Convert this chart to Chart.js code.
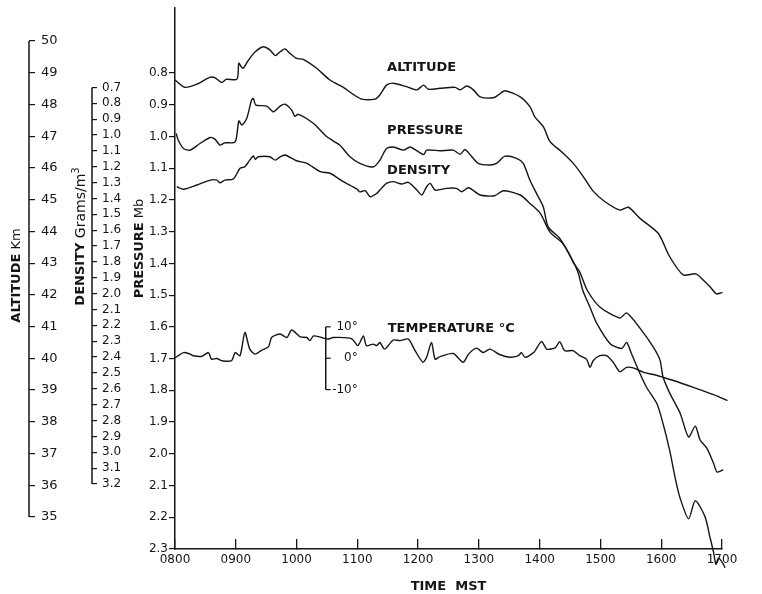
<!DOCTYPE html>
<html>
<head>
<meta charset="utf-8">
<script src="https://cdn.jsdelivr.net/npm/chart.js@4.4.1/dist/chart.umd.min.js"></script>
<style>
  html, body { margin: 0; padding: 0; background: #fff; }
  #wrap { width: 762px; height: 594px; }
</style>
</head>
<body>
<div id="wrap"><canvas id="sounding"></canvas></div>
<script>
// tick values / labels
const timeTicks = [8, 9, 10, 11, 12, 13, 14, 15, 16, 17];
const timeLabels = ['0800', '0900', '1000', '1100', '1200', '1300', '1400', '1500', '1600', '1700'];
const altitudeTicks = [35, 36, 37, 38, 39, 40, 41, 42, 43, 44, 45, 46, 47, 48, 49, 50];
const densityTicks = [0.7, 0.8, 0.9, 1.0, 1.1, 1.2, 1.3, 1.4, 1.5, 1.6, 1.7, 1.8, 1.9, 2.0, 2.1, 2.2,
                      2.3, 2.4, 2.5, 2.6, 2.7, 2.8, 2.9, 3.0, 3.1, 3.2];
const pressureTicks = [0.8, 0.9, 1.0, 1.1, 1.2, 1.3, 1.4, 1.5, 1.6, 1.7, 1.8, 1.9, 2.0, 2.1, 2.2, 2.3];
const tempTicks = [10, 0, -10];
const tempTickLabels = ['10°', '0°', '-10°'];
const tempAxisTime = 10.48;

// altitude (km) vs time (hours MST)
const altTime = [8.00, 8.16, 8.36, 8.58, 8.66, 8.77, 8.84, 9.02, 9.05, 9.09,
                 9.12, 9.21, 9.32, 9.45, 9.56, 9.65, 9.73, 9.81, 9.89, 10.00,
                 10.11, 10.33, 10.55, 10.77, 10.93, 11.07, 11.29, 11.37, 11.48, 11.59,
                 11.81, 11.98, 12.09, 12.17, 12.36, 12.61, 12.69, 12.80, 12.91, 13.02,
                 13.24, 13.32, 13.43, 13.68, 13.84, 13.92, 14.06, 14.17, 14.36, 14.55,
                 14.72, 14.88, 15.07, 15.32, 15.46, 15.65, 15.95, 16.14, 16.36, 16.57,
                 16.69, 16.80, 16.91, 17.01, 17.09];
const altKm = [48.77, 48.54, 48.64, 48.86, 48.84, 48.69, 48.79, 48.80, 49.30, 49.19,
               49.14, 49.40, 49.66, 49.82, 49.72, 49.54, 49.66, 49.75, 49.61, 49.45,
               49.42, 49.14, 48.77, 48.54, 48.32, 48.17, 48.17, 48.30, 48.61, 48.67,
               48.56, 48.46, 48.61, 48.48, 48.51, 48.54, 48.46, 48.58, 48.46, 48.24,
               48.21, 48.30, 48.43, 48.24, 47.93, 47.61, 47.30, 46.83, 46.51, 46.15,
               45.72, 45.27, 44.94, 44.67, 44.76, 44.41, 43.94, 43.20, 42.63, 42.66,
               42.47, 42.26, 42.03, 42.07, 41.92];

// pressure (mb)
const presTime = [8.02, 8.05, 8.14, 8.25, 8.41, 8.58, 8.66, 8.74, 8.82, 8.99,
                  9.05, 9.10, 9.18, 9.26, 9.29, 9.33, 9.51, 9.62, 9.73, 9.81,
                  9.92, 9.97, 10.03, 10.28, 10.50, 10.71, 10.88, 11.04, 11.26, 11.37,
                  11.48, 11.59, 11.76, 11.87, 12.09, 12.14, 12.36, 12.58, 12.69, 12.77,
                  12.85, 12.99, 13.18, 13.29, 13.43, 13.62, 13.73, 13.84, 13.95, 14.06,
                  14.14, 14.33, 14.50, 14.63, 14.71, 14.83, 14.94, 15.16, 15.35, 15.43,
                  15.51, 15.65, 15.76, 15.93, 16.03, 16.14, 16.23, 16.31, 16.45, 16.56,
                  16.72, 16.80, 16.86, 16.90, 16.94, 16.99, 17.05, 17.10];
const presMb = [0.990, 1.010, 1.038, 1.043, 1.022, 1.003, 1.009, 1.027, 1.020, 1.017,
                0.951, 0.964, 0.943, 0.885, 0.880, 0.901, 0.904, 0.922, 0.904, 0.898,
                0.917, 0.936, 0.930, 0.959, 1.001, 1.027, 1.064, 1.085, 1.096, 1.075,
                1.038, 1.033, 1.043, 1.033, 1.057, 1.043, 1.045, 1.043, 1.056, 1.041,
                1.056, 1.085, 1.090, 1.085, 1.062, 1.069, 1.085, 1.138, 1.180, 1.222,
                1.285, 1.321, 1.375, 1.428, 1.485, 1.539, 1.589, 1.653, 1.668, 1.649,
                1.684, 1.747, 1.791, 1.842, 1.905, 1.990, 2.076, 2.139, 2.205, 2.148,
                2.198, 2.261, 2.309, 2.348, 2.329, 2.338, 2.359, 2.401];

// density (g/m3)
const densTime = [8.03, 8.14, 8.36, 8.58, 8.69, 8.74, 8.82, 8.96, 9.07, 9.15,
                  9.23, 9.29, 9.32, 9.37, 9.56, 9.65, 9.73, 9.81, 10.00, 10.17,
                  10.39, 10.55, 10.77, 10.99, 11.04, 11.13, 11.21, 11.32, 11.37, 11.48,
                  11.59, 11.73, 11.84, 11.98, 12.06, 12.14, 12.20, 12.28, 12.47, 12.63,
                  12.72, 12.83, 13.02, 13.26, 13.40, 13.68, 13.84, 14.01, 14.17, 14.36,
                  14.45, 14.55, 14.66, 14.78, 14.99, 15.32, 15.43, 15.65, 15.87, 15.98,
                  16.03, 16.14, 16.31, 16.45, 16.56, 16.64, 16.75, 16.86, 16.92, 17.02,
                  17.09];
const densGm3 = [1.326, 1.342, 1.315, 1.284, 1.284, 1.301, 1.284, 1.277, 1.210, 1.200,
                 1.158, 1.132, 1.153, 1.137, 1.137, 1.158, 1.137, 1.126, 1.162, 1.178,
                 1.231, 1.241, 1.294, 1.340, 1.358, 1.351, 1.389, 1.368, 1.347, 1.305,
                 1.294, 1.309, 1.298, 1.347, 1.378, 1.326, 1.305, 1.347, 1.336, 1.336,
                 1.358, 1.332, 1.378, 1.383, 1.351, 1.378, 1.431, 1.494, 1.612, 1.675,
                 1.725, 1.801, 1.864, 1.977, 2.084, 2.154, 2.122, 2.217, 2.337, 2.419,
                 2.526, 2.627, 2.753, 2.904, 2.835, 2.923, 2.974, 3.068, 3.125, 3.112,
                 3.131];

// temperature (deg C)
const tempTime = [8.00, 8.14, 8.25, 8.30, 8.44, 8.55, 8.60, 8.69, 8.77, 8.93,
                  8.99, 9.07, 9.15, 9.23, 9.32, 9.43, 9.54, 9.59, 9.73, 9.84,
                  9.92, 10.06, 10.17, 10.22, 10.28, 10.41, 10.52, 10.60, 10.88, 10.93,
                  11.01, 11.10, 11.15, 11.26, 11.32, 11.37, 11.45, 11.59, 11.70, 11.84,
                  11.95, 12.08, 12.14, 12.22, 12.28, 12.36, 12.58, 12.74, 12.83, 12.96,
                  13.07, 13.18, 13.35, 13.51, 13.65, 13.70, 13.76, 13.90, 14.03, 14.12,
                  14.26, 14.33, 14.41, 14.55, 14.66, 14.77, 14.83, 14.88, 14.99, 15.10,
                  15.21, 15.32, 15.43, 15.54, 15.71, 15.87, 16.03, 16.20, 16.53, 16.86,
                  17.09];
const tempC = [0.1, 1.8, 1.3, 0.8, 0.6, 1.8, -0.3, -0.1, -0.8, -0.8,
               1.8, 0.8, 8.2, 2.9, 1.3, 2.6, 3.7, 6.6, 7.7, 6.6,
               9.0, 6.8, 6.6, 5.6, 7.1, 6.6, 6.1, 6.6, 6.4, 5.8,
               4.0, 7.1, 4.0, 4.5, 4.0, 5.0, 2.9, 5.8, 5.6, 6.1,
               2.4, -1.3, 0.3, 5.0, -0.3, 0.5, 1.5, -1.3, 1.3, 3.2,
               1.8, 2.9, 1.1, 0.3, 0.8, 1.8, 0.3, 1.8, 5.3, 2.9,
               3.4, 5.3, 2.4, 2.4, 0.8, -0.3, -2.9, -0.8, 0.8, 0.8,
               -1.3, -4.3, -2.9, -3.1, -4.5, -5.2, -6.1, -7.1, -9.3, -11.6,
               -13.5];

// curve labels, placed in time / pressure units
const curveLabels = [
  { text: 'ALTITUDE', t: 11.49, p: 0.784 },
  { text: 'PRESSURE', t: 11.49, p: 0.983 },
  { text: 'DENSITY', t: 11.49, p: 1.106 },
  { text: 'TEMPERATURE °C', t: 11.50, p: 1.604 }
];

const INK = '#151515';
const FONT = "'DejaVu Sans', 'Liberation Sans', sans-serif";

function pts(xs, ys) {
  return xs.map((x, i) => ({ x: x, y: ys[i] }));
}

function setTicks(list) {
  return scale => { scale.ticks = list.map(v => ({ value: v })); };
}

// fixed box size, and no label overhang pushing the plot area around
function fixBox(w, h) {
  return s => {
    if (w != null) s.width = w;
    if (h != null) s.height = h;
    s.paddingTop = 0;
    s.paddingBottom = 0;
    s.paddingLeft = 0;
    s.paddingRight = 0;
  };
}

// vertical (rotated) title made of parts with different fonts
function drawVTitle(ctx, parts, x, cy) {
  ctx.save();
  ctx.translate(x, cy);
  ctx.rotate(-Math.PI / 2);
  ctx.textBaseline = 'middle';
  ctx.textAlign = 'left';
  let total = 0;
  parts.forEach(p => { ctx.font = p.font; total += ctx.measureText(p.text).width; });
  let pos = -total / 2;
  parts.forEach(p => {
    ctx.font = p.font;
    ctx.fillText(p.text, pos, p.dy || 0);
    pos += ctx.measureText(p.text).width;
  });
  ctx.restore();
}

const paperPlugin = {
  id: 'paper',
  beforeDraw(chart) {
    const ctx = chart.ctx;
    ctx.save();
    ctx.fillStyle = '#fff';
    ctx.fillRect(0, 0, chart.width, chart.height);
    ctx.restore();
  },
  afterDraw(chart) {
    const { ctx, chartArea } = chart;
    const { x, yA, yD, yP, yT } = chart.scales;
    ctx.save();
    ctx.strokeStyle = INK;
    ctx.fillStyle = INK;
    ctx.lineWidth = 1.5;

    // altitude and density spines only run between their end ticks
    [[yA, altitudeTicks], [yD, densityTicks]].forEach(([s, t]) => {
      ctx.beginPath();
      ctx.moveTo(s.right, s.getPixelForValue(t[0]));
      ctx.lineTo(s.right, s.getPixelForValue(t[t.length - 1]));
      ctx.stroke();
    });

    // small temperature axis inside the plot
    const tx = x.getPixelForValue(tempAxisTime);
    ctx.beginPath();
    ctx.moveTo(tx, yT.getPixelForValue(tempTicks[0]));
    ctx.lineTo(tx, yT.getPixelForValue(tempTicks[tempTicks.length - 1]));
    ctx.stroke();
    ctx.lineWidth = 1.2;
    ctx.font = '12px ' + FONT;
    ctx.textAlign = 'right';
    ctx.textBaseline = 'middle';
    tempTicks.forEach((v, i) => {
      const ty = yT.getPixelForValue(v);
      ctx.beginPath();
      ctx.moveTo(tx, ty);
      ctx.lineTo(tx + 5, ty);
      ctx.stroke();
      ctx.fillText(tempTickLabels[i], tx + 32, ty);
    });

    // axis titles
    const bold = 'bold 13px ' + FONT;
    const norm = '13px ' + FONT;
    const mid = (chartArea.top + chartArea.bottom) / 2;
    drawVTitle(ctx, [{ text: 'ALTITUDE', font: bold }, { text: ' Km', font: norm }], yA.left + 17, mid - 3);
    drawVTitle(ctx, [{ text: 'DENSITY', font: bold }, { text: ' Grams/m', font: '14px ' + FONT },
                     { text: '3', font: '10px ' + FONT, dy: -5 }], yD.left + 52, mid - 42);
    drawVTitle(ctx, [{ text: 'PRESSURE', font: bold }, { text: ' Mb', font: norm }], yP.left + 48, mid - 30);

    // curve labels
    ctx.font = 'bold 13px ' + FONT;
    ctx.textAlign = 'left';
    ctx.textBaseline = 'middle';
    curveLabels.forEach(l => {
      ctx.fillText(l.text, x.getPixelForValue(l.t), yP.getPixelForValue(l.p));
    });
    ctx.restore();
  }
};

const lineStyle = { borderColor: INK, borderWidth: 1.4, pointRadius: 0, tension: 0.25, clip: false, fill: false };

new Chart(document.getElementById('sounding'), {
  type: 'line',
  data: {
    datasets: [
      Object.assign({ label: 'Altitude', data: pts(altTime, altKm), yAxisID: 'yA' }, lineStyle),
      Object.assign({ label: 'Pressure', data: pts(presTime, presMb), yAxisID: 'yP' }, lineStyle),
      Object.assign({ label: 'Density', data: pts(densTime, densGm3), yAxisID: 'yD' }, lineStyle),
      Object.assign({ label: 'Temperature', data: pts(tempTime, tempC), yAxisID: 'yT' }, lineStyle)
    ]
  },
  options: {
    responsive: true,
    maintainAspectRatio: false,
    animation: false,
    layout: { padding: { top: 8, right: 40, left: 0, bottom: 0 } },
    plugins: { legend: { display: false }, tooltip: { enabled: false } },
    scales: {
      x: {
        type: 'linear',
        position: 'bottom',
        min: 8,
        max: 17,
        afterBuildTicks: setTicks(timeTicks),
        afterFit: fixBox(null, 45),
        ticks: {
          autoSkip: false,
          maxRotation: 0,
          padding: 14,
          color: INK,
          font: { family: FONT, size: 12 },
          callback: (v, i) => timeLabels[i]
        },
        grid: { drawOnChartArea: false, tickLength: -10, color: INK, lineWidth: 1.3 },
        border: { color: INK, width: 1.5 },
        title: {
          display: true,
          text: 'TIME  MST',
          color: INK,
          font: { family: FONT, size: 13, weight: 'bold' },
          padding: { top: 0, bottom: 0 }
        }
      },
      yP: {
        type: 'linear',
        position: 'left',
        reverse: true,
        min: 0.595,
        max: 2.3,
        afterBuildTicks: setTicks(pressureTicks),
        afterFit: fixBox(83, null),
        ticks: {
          autoSkip: false,
          padding: 1,
          color: INK,
          font: { family: FONT, size: 12 },
          callback: v => v.toFixed(1)
        },
        grid: { drawOnChartArea: false, tickLength: 6, color: INK, lineWidth: 1.2 },
        border: { color: INK, width: 1.5 }
      },
      yD: {
        type: 'linear',
        position: 'left',
        reverse: true,
        min: 0.199,
        max: 3.61,
        afterBuildTicks: setTicks(densityTicks),
        afterFit: fixBox(63, null),
        ticks: {
          autoSkip: false,
          mirror: true,
          padding: 10,
          color: INK,
          font: { family: FONT, size: 12 },
          callback: v => v.toFixed(1)
        },
        grid: { drawOnChartArea: false, tickLength: -5, color: INK, lineWidth: 1.2 },
        border: { display: false }
      },
      yA: {
        type: 'linear',
        position: 'left',
        min: 33.99,
        max: 51.04,
        afterBuildTicks: setTicks(altitudeTicks),
        afterFit: fixBox(29, null),
        ticks: {
          autoSkip: false,
          mirror: true,
          padding: 12,
          color: INK,
          font: { family: FONT, size: 13 },
          callback: v => String(v)
        },
        grid: { drawOnChartArea: false, tickLength: -6, color: INK, lineWidth: 1.2 },
        border: { display: false }
      },
      yT: {
        type: 'linear',
        display: false,
        position: 'left',
        min: -60.8,
        max: 111.6
      }
    }
  },
  plugins: [paperPlugin]
});
</script>
</body>
</html>
